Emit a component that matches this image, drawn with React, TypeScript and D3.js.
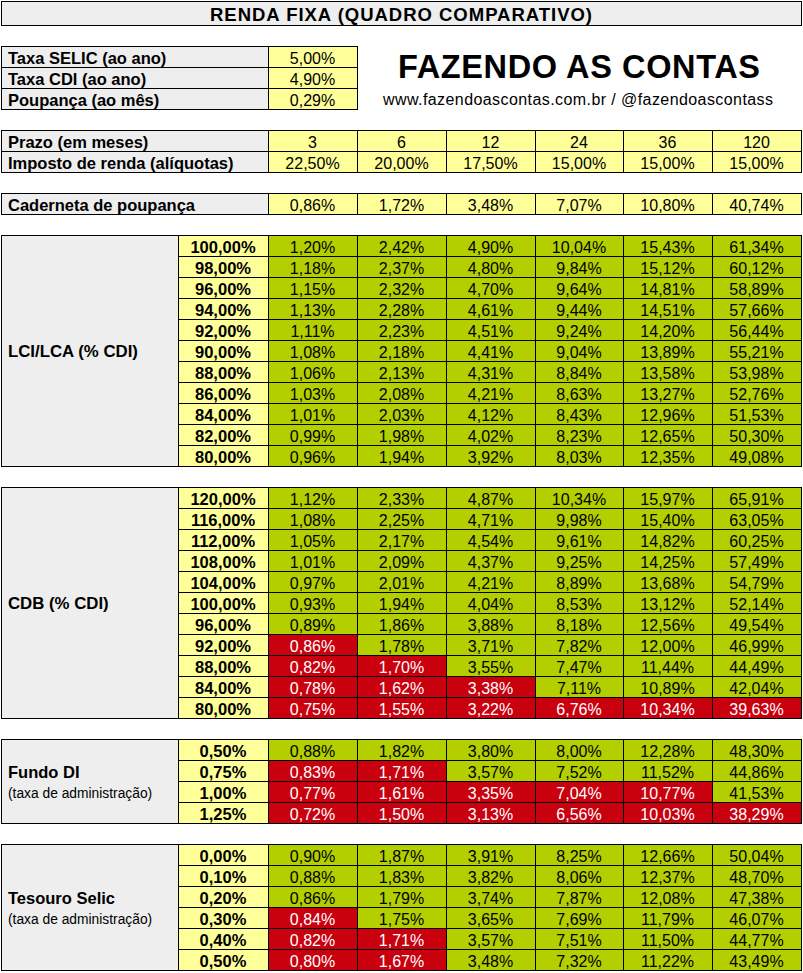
import React from "react";
import * as d3 from "d3";

// ---------- DATA ----------
const title = "RENDA FIXA (QUADRO COMPARATIVO)";
const brand = "FAZENDO AS CONTAS";
const brandUrl = "www.fazendoascontas.com.br / @fazendoascontass";

const rateLabels = ["Taxa SELIC (ao ano)", "Taxa CDI (ao ano)", "Poupança (ao mês)"];
const rateValues = [5.0, 4.9, 0.29];

const prazos = [3, 6, 12, 24, 36, 120];
const impostoRenda = [22.5, 20.0, 17.5, 15.0, 15.0, 15.0];
const poupanca = [0.86, 1.72, 3.48, 7.07, 10.8, 40.74];

const lciParams = [100, 98, 96, 94, 92, 90, 88, 86, 84, 82, 80];
const lciValues = [
  [1.2, 2.42, 4.9, 10.04, 15.43, 61.34],
  [1.18, 2.37, 4.8, 9.84, 15.12, 60.12],
  [1.15, 2.32, 4.7, 9.64, 14.81, 58.89],
  [1.13, 2.28, 4.61, 9.44, 14.51, 57.66],
  [1.11, 2.23, 4.51, 9.24, 14.2, 56.44],
  [1.08, 2.18, 4.41, 9.04, 13.89, 55.21],
  [1.06, 2.13, 4.31, 8.84, 13.58, 53.98],
  [1.03, 2.08, 4.21, 8.63, 13.27, 52.76],
  [1.01, 2.03, 4.12, 8.43, 12.96, 51.53],
  [0.99, 1.98, 4.02, 8.23, 12.65, 50.3],
  [0.96, 1.94, 3.92, 8.03, 12.35, 49.08],
];
const lciBelowPoupanca = [0, 0, 0, 0, 0, 0, 0, 0, 0, 0, 0];

const cdbParams = [120, 116, 112, 108, 104, 100, 96, 92, 88, 84, 80];
const cdbValues = [
  [1.12, 2.33, 4.87, 10.34, 15.97, 65.91],
  [1.08, 2.25, 4.71, 9.98, 15.4, 63.05],
  [1.05, 2.17, 4.54, 9.61, 14.82, 60.25],
  [1.01, 2.09, 4.37, 9.25, 14.25, 57.49],
  [0.97, 2.01, 4.21, 8.89, 13.68, 54.79],
  [0.93, 1.94, 4.04, 8.53, 13.12, 52.14],
  [0.89, 1.86, 3.88, 8.18, 12.56, 49.54],
  [0.86, 1.78, 3.71, 7.82, 12.0, 46.99],
  [0.82, 1.7, 3.55, 7.47, 11.44, 44.49],
  [0.78, 1.62, 3.38, 7.11, 10.89, 42.04],
  [0.75, 1.55, 3.22, 6.76, 10.34, 39.63],
];
const cdbBelowPoupanca = [0, 0, 0, 0, 0, 0, 0, 1, 2, 3, 6];

const fundoParams = [0.5, 0.75, 1.0, 1.25];
const fundoValues = [
  [0.88, 1.82, 3.8, 8.0, 12.28, 48.3],
  [0.83, 1.71, 3.57, 7.52, 11.52, 44.86],
  [0.77, 1.61, 3.35, 7.04, 10.77, 41.53],
  [0.72, 1.5, 3.13, 6.56, 10.03, 38.29],
];
const fundoBelowPoupanca = [0, 2, 5, 6];

const tesouroParams = [0.0, 0.1, 0.2, 0.3, 0.4, 0.5];
const tesouroValues = [
  [0.9, 1.87, 3.91, 8.25, 12.66, 50.04],
  [0.88, 1.83, 3.82, 8.06, 12.37, 48.7],
  [0.86, 1.79, 3.74, 7.87, 12.08, 47.38],
  [0.84, 1.75, 3.65, 7.69, 11.79, 46.07],
  [0.82, 1.71, 3.57, 7.51, 11.5, 44.77],
  [0.8, 1.67, 3.48, 7.32, 11.22, 43.49],
];
const tesouroBelowPoupanca = [0, 0, 0, 1, 2, 2];

// ---------- STYLE ----------
const W = 803;
const H = 973;
const FONT = "'Liberation Sans', Arial, Helvetica, sans-serif";
const GRAY = "#eeeeee";
const YELLOW = "#ffff99";
const GREEN = "#b3cf00";
const RED = "#c9000e";
const BOLD_SIZE = 16.5;

const f2 = d3.format(".2f");
const pct = (v: number) => f2(v).replace(".", ",") + "%";

// columns
const colX = d3.scaleLinear().domain([0, 6]).range([268, 801]);
const cx = (i: number) => Math.round(colX(i));
// rows: title 1..25, then 21px rows
const rowY = d3.scaleLinear().domain([0, 1]).range([25, 46]);
const ry = (r: number) => Math.round(rowY(r));

function Cell({
  x0, x1, y0, y1, fill, text, bold = false, color = "#000", align = "middle",
}: any) {
  const tx = align === "start" ? x0 + 7 : (x0 + x1) / 2;
  return (
    <g>
      <rect x={x0 + 0.5} y={y0 + 0.5} width={x1 - x0} height={y1 - y0} fill={fill} stroke="#000" strokeWidth={1} />
      {text !== undefined && (
        <text
          x={tx}
          y={y0 + 17.5}
          textAnchor={align}
          fontFamily={FONT}
          fontSize={bold ? BOLD_SIZE : 16}
          fontWeight={bold ? "bold" : "normal"}
          fill={color}
        >
          {text}
        </text>
      )}
    </g>
  );
}

function Group({
  startRow, params, values, below, label, sub, paramFmt,
}: {
  startRow: number; params: number[]; values: number[][]; below: number[]; label: string; sub?: string; paramFmt: (v: number) => string;
}) {
  const y0 = ry(startRow);
  const y1 = ry(startRow + params.length);
  const mid = (y0 + y1) / 2;
  return (
    <g>
      <rect x={1.5} y={y0 + 0.5} width={178 - 1} height={y1 - y0} fill={GRAY} stroke="#000" />
      {sub ? (
        <>
          <text x={8} y={mid - 3} fontFamily={FONT} fontSize={BOLD_SIZE} fontWeight="bold">{label}</text>
          <text x={8} y={mid + 17} fontFamily={FONT} fontSize={13.8}>{sub}</text>
        </>
      ) : (
        <text x={8} y={mid + 6} fontFamily={FONT} fontSize={BOLD_SIZE + 0.3} fontWeight="bold">{label}</text>
      )}
      {params.map((p, r) => {
        const a = ry(startRow + r);
        const b = ry(startRow + r + 1);
        return (
          <g key={r}>
            <Cell x0={178} x1={cx(0)} y0={a} y1={b} fill={YELLOW} text={paramFmt(p)} bold />
            {values[r].map((v, c) => {
              const isRed = c < below[r];
              return (
                <Cell key={c} x0={cx(c)} x1={cx(c + 1)} y0={a} y1={b}
                  fill={isRed ? RED : GREEN} text={pct(v)} color={isRed ? "#fff" : "#000"} />
              );
            })}
          </g>
        );
      })}
    </g>
  );
}

export default function App() {
  return (
    <svg width={W} height={H} style={{ position: "absolute", left: 0, top: 0, background: "#fff" }}>
      {/* title */}
      <rect x={1.5} y={1.5} width={800} height={24} fill={GRAY} stroke="#000" />
      <text x={401} y={21} textAnchor="middle" fontFamily={FONT} fontSize={18.5} fontWeight="bold"
        textLength={382} lengthAdjust="spacing">{title}</text>

      {/* rates */}
      {rateLabels.map((l, i) => (
        <g key={l}>
          <Cell x0={1} x1={cx(0)} y0={ry(1 + i)} y1={ry(2 + i)} fill={GRAY} text={l} bold align="start" />
          <Cell x0={cx(0)} x1={cx(1)} y0={ry(1 + i)} y1={ry(2 + i)} fill={YELLOW} text={pct(rateValues[i])} />
        </g>
      ))}

      {/* brand */}
      <text x={579} y={78} textAnchor="middle" fontFamily={FONT} fontSize={32.5} fontWeight="bold"
        textLength={362} lengthAdjust="spacing">{brand}</text>
      <text x={578} y={105} textAnchor="middle" fontFamily={FONT} fontSize={16}
        textLength={390} lengthAdjust="spacing">{brandUrl}</text>

      {/* prazo / IR */}
      <Cell x0={1} x1={cx(0)} y0={ry(5)} y1={ry(6)} fill={GRAY} text="Prazo (em meses)" bold align="start" />
      <Cell x0={1} x1={cx(0)} y0={ry(6)} y1={ry(7)} fill={GRAY} text="Imposto de renda (alíquotas)" bold align="start" />
      {prazos.map((p, c) => (
        <Cell key={"p" + c} x0={cx(c)} x1={cx(c + 1)} y0={ry(5)} y1={ry(6)} fill={YELLOW} text={String(p)} />
      ))}
      {impostoRenda.map((v, c) => (
        <Cell key={"ir" + c} x0={cx(c)} x1={cx(c + 1)} y0={ry(6)} y1={ry(7)} fill={YELLOW} text={pct(v)} />
      ))}

      {/* caderneta */}
      <Cell x0={1} x1={cx(0)} y0={ry(8)} y1={ry(9)} fill={GRAY} text="Caderneta de poupança" bold align="start" />
      {poupanca.map((v, c) => (
        <Cell key={"cp" + c} x0={cx(c)} x1={cx(c + 1)} y0={ry(8)} y1={ry(9)} fill={YELLOW} text={pct(v)} />
      ))}

      <Group startRow={10} params={lciParams} values={lciValues} below={lciBelowPoupanca} label="LCI/LCA (% CDI)" paramFmt={pct} />
      <Group startRow={22} params={cdbParams} values={cdbValues} below={cdbBelowPoupanca} label="CDB (% CDI)" paramFmt={pct} />
      <Group startRow={34} params={fundoParams} values={fundoValues} below={fundoBelowPoupanca} label="Fundo DI" sub="(taxa de administração)" paramFmt={pct} />
      <Group startRow={39} params={tesouroParams} values={tesouroValues} below={tesouroBelowPoupanca} label="Tesouro Selic" sub="(taxa de administração)" paramFmt={pct} />
    </svg>
  );
}
